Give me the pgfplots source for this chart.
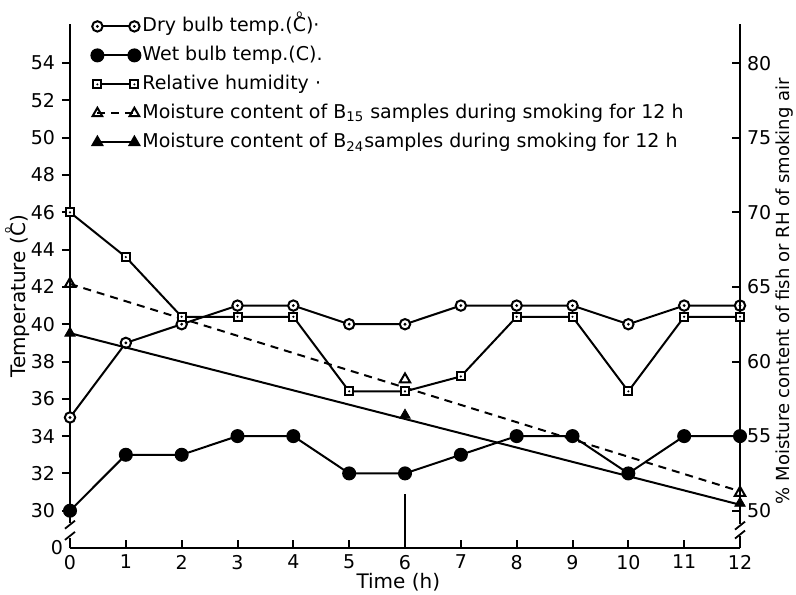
\documentclass[border=0pt]{standalone}
\usepackage{fontspec}
\setmainfont{DejaVu Sans}
\usepackage{pgfplots}
\pgfplotsset{compat=1.18}

\newcommand\Cr{\ooalign{C\cr\hidewidth\raisebox{0.74em}{\fontsize{5}{5}\selectfont o}\hidewidth\cr}}

\pgfdeclareplotmark{codot}{%
  \pgfpathcircle{\pgfpointorigin}{\pgfplotmarksize}%
  \pgfsetfillcolor{white}\pgfusepathqfillstroke
  \pgfpathcircle{\pgfpointorigin}{0.3\pgfplotmarksize}%
  \pgfsetfillcolor{black}\pgfusepathqfill}
\pgfdeclareplotmark{sqdot}{%
  \pgfpathrectangle{\pgfpoint{-\pgfplotmarksize}{-\pgfplotmarksize}}{\pgfpoint{2\pgfplotmarksize}{2\pgfplotmarksize}}%
  \pgfsetfillcolor{white}\pgfusepathqfillstroke
  \pgfpathcircle{\pgfpointorigin}{0.3\pgfplotmarksize}%
  \pgfsetfillcolor{black}\pgfusepathqfill}

\pgfplotstableread{
x dry wet rh
0 35 30 70
1 39 33 67
2 40 33 63
3 41 34 63
4 41 34 63
5 40 32 58
6 40 32 58
7 41 33 59
8 41 34 63
9 41 34 63
10 40 32 58
11 41 34 63
12 41 34 63
}\tempdata

\pgfplotsset{
  common/.style={
    scale only axis, width=335pt, height=262pt,
    xmin=0, xmax=12, clip=false,
    axis line style={-, line width=1.3pt},
    every tick/.style={line width=1pt, black},
    major tick length=4pt,
    /pgf/number format/assume math mode=true,
    tick label style={font=\fontsize{9.5}{11}\selectfont},
    label style={font=\fontsize{9.5}{11}\selectfont},
  },
  datline/.style={black, line width=1pt},
}

\begin{document}
\begin{tikzpicture}
\begin{axis}[common,
  ymin=28, ymax=56.1,
  axis y line*=left, axis x line=none,
  ytick={30,32,...,54},
  extra y ticks={28}, extra y tick labels={0},
  extra y tick style={major tick length=0pt},
  tick align=outside,
  ylabel={Temperature (\Cr)},
  every axis y label/.style={at={(rel axis cs:0,0.48)}, xshift=-25pt, rotate=90, anchor=center},
]
\addplot[datline, mark=codot, mark size=2.6pt] table[x=x, y=dry] {\tempdata};
\addplot[datline, mark=*, mark size=3pt] table[x=x, y=wet] {\tempdata};
\addplot[datline, no marks] coordinates {(6,28) (6,30.9)};
\fill[white] ([xshift=-3pt]axis cs:0,28.55) rectangle ([xshift=3pt]axis cs:0,29.35);
\draw[line width=0.9pt] ([xshift=-2.5pt,yshift=-2pt]axis cs:0,28.65) -- ([xshift=2.5pt,yshift=2pt]axis cs:0,28.65);
\draw[line width=0.9pt] ([xshift=-2.5pt,yshift=-2pt]axis cs:0,29.25) -- ([xshift=2.5pt,yshift=2pt]axis cs:0,29.25);
\end{axis}

\begin{axis}[common,
  ymin=47.5, ymax=82.625,
  axis y line*=right, axis x line*=bottom,
  xtick={0,1,...,12},
  ytick={50,55,...,80},
  tick align=inside,
  xlabel={Time (h)},
  every axis x label/.style={at={(rel axis cs:0.49,0)}, yshift=-17pt, anchor=center},
  ylabel={\% Moisture content of fish or RH of smoking air},
  every axis y label/.style={at={(rel axis cs:1,0.49)}, xshift=22.5pt, rotate=90, anchor=center, font=\fontsize{9}{11}\selectfont},
  legend style={at={(rel axis cs:0,1)}, anchor=north west, xshift=10.5pt, yshift=5pt,
    draw=none, fill=none, inner sep=0pt, row sep=2.5pt,
    font=\fontsize{9.5}{11}\selectfont, cells={anchor=west},
    nodes={inner sep=1pt, text height=7.5pt, text depth=2.5pt},
    /tikz/every even column/.append style={column sep=4.5pt}},
  legend image code/.code={\draw[#1] plot coordinates {(0pt,0pt) (18.5pt,0pt)};},
]
\addlegendimage{datline, mark=codot, mark size=2.6pt}
\addlegendentry{Dry bulb temp.(\Cr)·}
\addlegendimage{datline, mark=*, mark size=3pt}
\addlegendentry{Wet bulb temp.(C).}
\addlegendimage{datline, mark=sqdot, mark size=2pt}
\addlegendentry{Relative humidity ·}
\addlegendimage{datline, dash pattern=on 4pt off 3pt, mark=triangle, mark options={solid, fill=white}, mark size=2.8pt}
\addlegendentry{Moisture content of B\textsubscript{15} samples during smoking for 12 h}
\addlegendimage{datline, mark=triangle*, mark size=2.8pt}
\addlegendentry{Moisture content of B\textsubscript{24}samples during smoking for 12 h}

\addplot[datline, mark=sqdot, mark size=2pt, forget plot] table[x=x, y=rh] {\tempdata};
\addplot[datline, dash pattern=on 4pt off 3pt, no marks, forget plot] coordinates {(0,65.2) (12,51.3)};
\addplot[only marks, mark=triangle, mark options={solid, fill=white, line width=1pt}, mark size=3pt, forget plot] coordinates {(0,65.2) (6,58.8) (12,51.2)};
\addplot[datline, no marks, forget plot] coordinates {(0,61.9) (12,50.4)};
\addplot[only marks, mark=triangle*, mark size=3pt, forget plot] coordinates {(0,61.9) (6,56.4) (12,50.5)};
\fill[white] ([xshift=-3pt]axis cs:12,48.3) rectangle ([xshift=3pt]axis cs:12,49.1);
\draw[line width=0.9pt] ([xshift=-2.5pt,yshift=-2pt]axis cs:12,48.4) -- ([xshift=2.5pt,yshift=2pt]axis cs:12,48.4);
\draw[line width=0.9pt] ([xshift=-2.5pt,yshift=-2pt]axis cs:12,49.0) -- ([xshift=2.5pt,yshift=2pt]axis cs:12,49.0);
\end{axis}
\pgfresetboundingbox
\path[use as bounding box] (-35pt,-23pt) rectangle (363pt,274pt);
\end{tikzpicture}
\end{document}
